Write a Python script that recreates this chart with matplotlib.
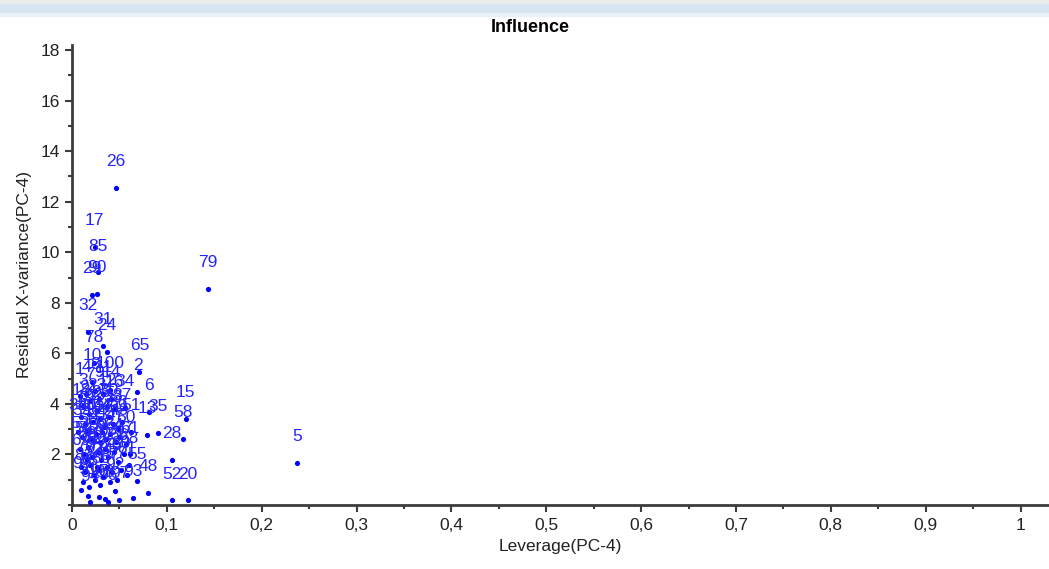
import matplotlib
matplotlib.use("Agg")
import matplotlib.pyplot as plt
from matplotlib.patches import Rectangle
from matplotlib.ticker import MultipleLocator, FuncFormatter

plt.rcParams['font.family'] = ['Liberation Sans', 'DejaVu Sans']

# labelled outliers
named_labels = ["26", "17", "85", "29", "90", "32", "31", "24", "78", "10",
                "100", "65", "2", "34", "6", "15", "58", "13", "35", "28",
                "61", "55", "48", "52", "20", "79", "5"]
named_x = [0.046, 0.024, 0.027, 0.021, 0.026, 0.017, 0.033, 0.037, 0.023, 0.021,
           0.040, 0.071, 0.069, 0.056, 0.081, 0.120, 0.117, 0.079, 0.091, 0.105,
           0.061, 0.069, 0.080, 0.105, 0.122, 0.143, 0.237]
named_y = [12.55, 10.2, 9.2, 8.3, 8.35, 6.85, 6.3, 6.05, 5.6, 4.87,
           4.55, 5.27, 4.48, 3.84, 3.68, 3.4, 2.6, 2.77, 2.85, 1.78,
           2.0, 0.95, 0.48, 0.18, 0.18, 8.55, 1.66]

# dense cluster near the origin
cluster_x = [0.008, 0.012, 0.015, 0.019, 0.024, 0.028, 0.033, 0.037, 0.041, 0.045,
             0.010, 0.014, 0.018, 0.022, 0.026, 0.030, 0.034, 0.039, 0.043, 0.048,
             0.053, 0.006, 0.011, 0.016, 0.020, 0.025, 0.029, 0.032, 0.036, 0.040,
             0.046, 0.050, 0.057, 0.062, 0.008, 0.013, 0.017, 0.021, 0.027, 0.031,
             0.035, 0.038, 0.044, 0.049, 0.055, 0.060, 0.009, 0.014, 0.019, 0.023,
             0.028, 0.033, 0.037, 0.042, 0.047, 0.052, 0.058, 0.012, 0.018, 0.024,
             0.030, 0.040, 0.016, 0.026,
             0.017, 0.045, 0.064, 0.019, 0.028, 0.038, 0.050, 0.035, 0.010]
cluster_y = [4.3, 3.9, 4.4, 4.1, 4.5, 4.2, 4.4, 3.9, 4.2, 3.8,
             3.5, 3.2, 3.6, 3.3, 3.7, 3.4, 3.1, 3.5, 3.2, 3.0,
             3.3, 2.9, 2.7, 2.9, 2.6, 2.8, 2.5, 2.9, 2.6, 2.8,
             2.5, 2.7, 2.4, 2.9, 2.2, 2.0, 2.3, 1.9, 2.1, 1.8,
             2.2, 1.9, 2.1, 1.7, 2.0, 1.6, 1.5, 1.3, 1.6, 1.2,
             1.4, 1.1, 1.5, 1.3, 1.0, 1.4, 1.2, 0.9, 0.7, 1.0,
             0.8, 0.9, 1.8, 1.5,
             0.35, 0.55, 0.28, 0.1, 0.3, 0.12, 0.2, 0.25, 0.6]
used = set(int(s) for s in named_labels)
cluster_labels = [str(i) for i in range(1, 101) if i not in used]

xs = named_x + cluster_x
ys = named_y + cluster_y
labels = named_labels + cluster_labels

fig = plt.figure(figsize=(10.49, 5.69), dpi=100)

# window chrome strip at the top
fig.patches.append(Rectangle((0, 1 - 4 / 569), 1, 4 / 569, transform=fig.transFigure,
                             color='#ececec', zorder=0))
fig.patches.append(Rectangle((0, 1 - 13 / 569), 1, 9 / 569, transform=fig.transFigure,
                             color='#d7e4f2', zorder=0))
fig.patches.append(Rectangle((0, 1 - 16 / 569), 1, 3 / 569, transform=fig.transFigure,
                             color='#eaf0f7', zorder=0))

ax = fig.add_axes([72 / 1049, 64 / 569, 1 - 72 / 1049, (505 - 45) / 569])

blue = '#0000ff'
ax.scatter(xs, ys, s=14, color=blue, zorder=3, linewidths=0)
for x, y, lab in zip(xs, ys, labels):
    ax.annotate(lab, (x, y), xytext=(0, 19), textcoords='offset points',
                ha='center', va='center', color='#2424ff', fontsize=12.5)

ax.set_xlim(0, 1.03)
ax.set_ylim(0, 18.2)
ax.xaxis.set_major_locator(MultipleLocator(0.1))
ax.xaxis.set_minor_locator(MultipleLocator(0.05))
ax.yaxis.set_minor_locator(MultipleLocator(1))
ax.set_yticks([2, 4, 6, 8, 10, 12, 14, 16, 18])
ax.xaxis.set_major_formatter(FuncFormatter(lambda v, p: ('%g' % round(v, 2)).replace('.', ',')))

for s in ['top', 'right']:
    ax.spines[s].set_visible(False)
for s in ['left', 'bottom']:
    ax.spines[s].set_color('#3c3c3c')
    ax.spines[s].set_linewidth(2)
ax.tick_params(which='major', length=5, width=1.5, color='#3c3c3c', labelsize=12.5,
               labelcolor='#222222', pad=4)
ax.tick_params(which='minor', length=3, width=1.5, color='#3c3c3c')

ax.set_xlabel('Leverage(PC-4)', fontsize=12.5, color='#222222', labelpad=5)
ax.set_ylabel('Residual X-variance(PC-4)', fontsize=12.5, color='#222222', labelpad=6)

fig.text(530 / 1049, 1 - 28 / 569, 'Influence', ha='center', va='center', fontsize=13,
         fontweight='bold', family=['Liberation Sans Narrow', 'Liberation Sans', 'DejaVu Sans'])

fig.savefig('out.png', dpi=100)
